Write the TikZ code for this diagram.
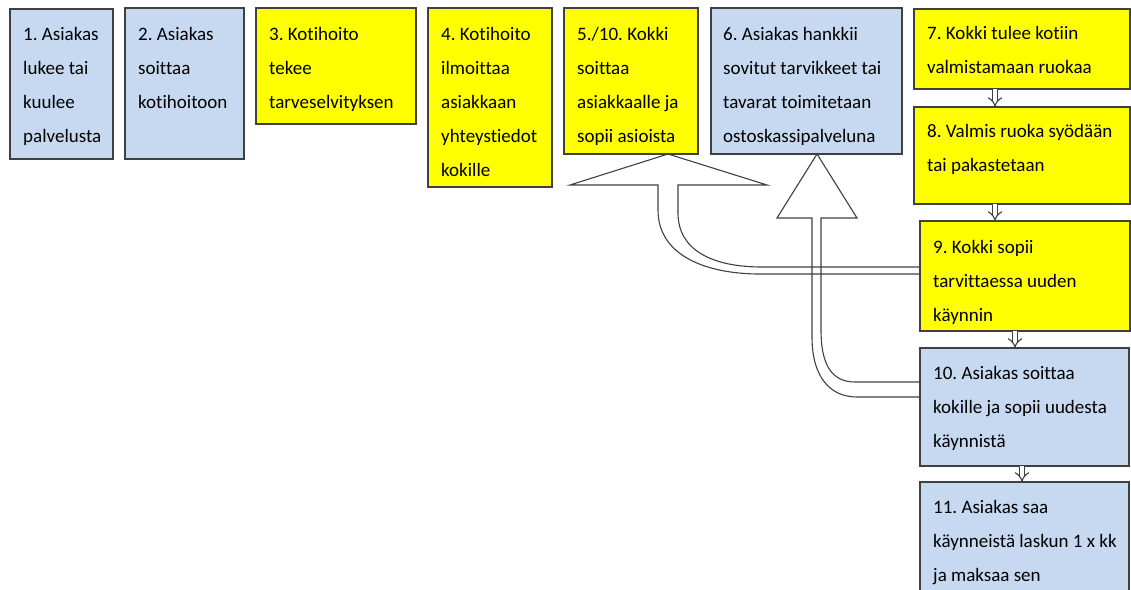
\documentclass[tikz,border=0pt]{standalone}
\usepackage{fontspec}
\setmainfont{Carlito}[Ligatures=NoCommon]
\usetikzlibrary{arrows.meta}
\definecolor{boxblue}{RGB}{198,217,241}
\definecolor{boxyellow}{RGB}{255,255,0}
\definecolor{boxline}{RGB}{64,64,64}
\newcommand{\topstrut}{\rule{0pt}{15pt}}
\frenchspacing
\tikzstyle{box} = [draw=boxline, line width=1.2pt, anchor=north west, inner sep=0pt, outer sep=0pt]
\tikzstyle{bluebox} = [box, fill=boxblue]
\tikzstyle{yellowbox} = [box, fill=boxyellow]
\tikzstyle{txt} = [anchor=north west, align=left, inner sep=0pt, font=\fontsize{19}{34}\selectfont]
\tikzstyle{smallarrow} = [draw=boxline, line width=1.1pt, double=white, double distance=4pt, -{Implies}]
\tikzstyle{bigarrow} = [draw=boxline, line width=1.1pt]

\begin{document}
\begin{tikzpicture}[x=1pt, y=-1pt]
\useasboundingbox (0,0) rectangle (1131,589);
%Top row
\node[bluebox, minimum width=103pt, minimum height=150pt] (b1) at (10,9) {};
\node[bluebox, minimum width=119pt, minimum height=151pt] (b2) at (125,8) {};
\node[yellowbox, minimum width=160pt, minimum height=116pt] (b3) at (256,8) {};
\node[yellowbox, minimum width=124pt, minimum height=179pt] (b4) at (428,8) {};
\node[yellowbox, minimum width=134pt, minimum height=146pt] (b5) at (564,8) {};
\node[bluebox, minimum width=191pt, minimum height=146pt] (b6) at (711,8) {};
%Right column
\node[yellowbox, minimum width=216pt, minimum height=80pt] (b7) at (914,9) {};
\node[yellowbox, minimum width=216pt, minimum height=97pt] (b8) at (914,107) {};
\node[yellowbox, minimum width=210pt, minimum height=110pt] (b9) at (920,221) {};
\node[bluebox, minimum width=209pt, minimum height=118pt] (b10) at (920,348) {};
\node[bluebox, minimum width=209pt, minimum height=130pt] (b11) at (920,482) {};

%Texts
\node[txt] (t1) at ([shift={(13,16)}]b1.north west) {\topstrut1. Asiakas\\lukee tai\\kuulee\\palvelusta};
\node[txt] (t2) at ([shift={(13,17)}]b2.north west) {\topstrut2. Asiakas\\soittaa\\kotihoitoon};
\node[txt] (t3) at ([shift={(13,17)}]b3.north west) {\topstrut3. Kotihoito\\tekee\\tarveselvityksen};
\node[txt] (t4) at ([shift={(13,17)}]b4.north west) {\topstrut4. Kotihoito\\ilmoittaa\\asiakkaan\\yhteystiedot\\kokille};
\node[txt] (t5) at ([shift={(13,17)}]b5.north west) {\topstrut5./10. Kokki\\soittaa\\asiakkaalle ja\\sopii asioista};
\node[txt] (t6) at ([shift={(12,17)}]b6.north west) {\topstrut6. Asiakas hankkii\\sovitut tarvikkeet tai\\tavarat toimitetaan\\ostoskassipalveluna};
\node[txt] (t7) at ([shift={(13,15)}]b7.north west) {\topstrut7. Kokki tulee kotiin\\valmistamaan ruokaa};
\node[txt] (t8) at ([shift={(13,15)}]b8.north west) {\topstrut8. Valmis ruoka syödään\\tai pakastetaan};
\node[txt] (t9) at ([shift={(13,17)}]b9.north west) {\topstrut9. Kokki sopii\\tarvittaessa uuden\\käynnin};
\node[txt] (t10) at ([shift={(13,16)}]b10.north west) {\topstrut10. Asiakas soittaa\\kokille ja sopii uudesta\\käynnistä};
\node[txt] (t11) at ([shift={(13,16)}]b11.north west) {\topstrut11. Asiakas saa\\käynneistä laskun 1 x kk\\ja maksaa sen};

%Small arrows
\draw[smallarrow] ([yshift=51]b1.north east) -- ([yshift=52]b2.north west);
\draw[smallarrow] ([yshift=62]b2.north east) -- ([yshift=62]b3.north west);
\draw[smallarrow] ([yshift=62]b3.north east) -- ([yshift=62]b4.north west);
\draw[smallarrow] ([yshift=67]b4.north east) -- ([yshift=67]b5.north west);
\draw[smallarrow] ([yshift=62]b5.north east) -- ([yshift=62]b6.north west);
\draw[smallarrow] ([yshift=67]b6.north east) -- ([yshift=66]b7.north west);
\draw[smallarrow] (b7.south west -| 995,0) -- (b8.north west -| 995,0);
\draw[smallarrow] (b8.south west -| 995,0) -- (b9.north west -| 995,0);
\draw[smallarrow] (b9.south west -| 1015,0) -- (b10.north west -| 1015,0);
\draw[smallarrow] (b10.south west -| 1022,0) -- (b11.north west -| 1022,0);

%Big arrow 9 -> 5
\draw[bigarrow] (b9.west |- 0,267) -- (762,267) .. controls (712,267) and (678,250) .. (678,213)
  -- (678,185) -- (767,185) -- (b5.south -| 668,0) -- (570,185) -- (658,185) -- (658,210)
  .. controls (658,255) and (705,274) .. (760,274) -- (b9.west |- 0,274);
%Big arrow 10 -> 6
\draw[bigarrow] (b10.west |- 0,382) -- (855,382) .. controls (830,382) and (821,362) .. (821,330)
  -- (821,218) -- (857,218) -- (b6.south -| 817,0) -- (777,218) -- (812,218) -- (812,337)
  .. controls (812,377) and (830,397) .. (857,397) -- (b10.west |- 0,397);
\end{tikzpicture}
\end{document}
